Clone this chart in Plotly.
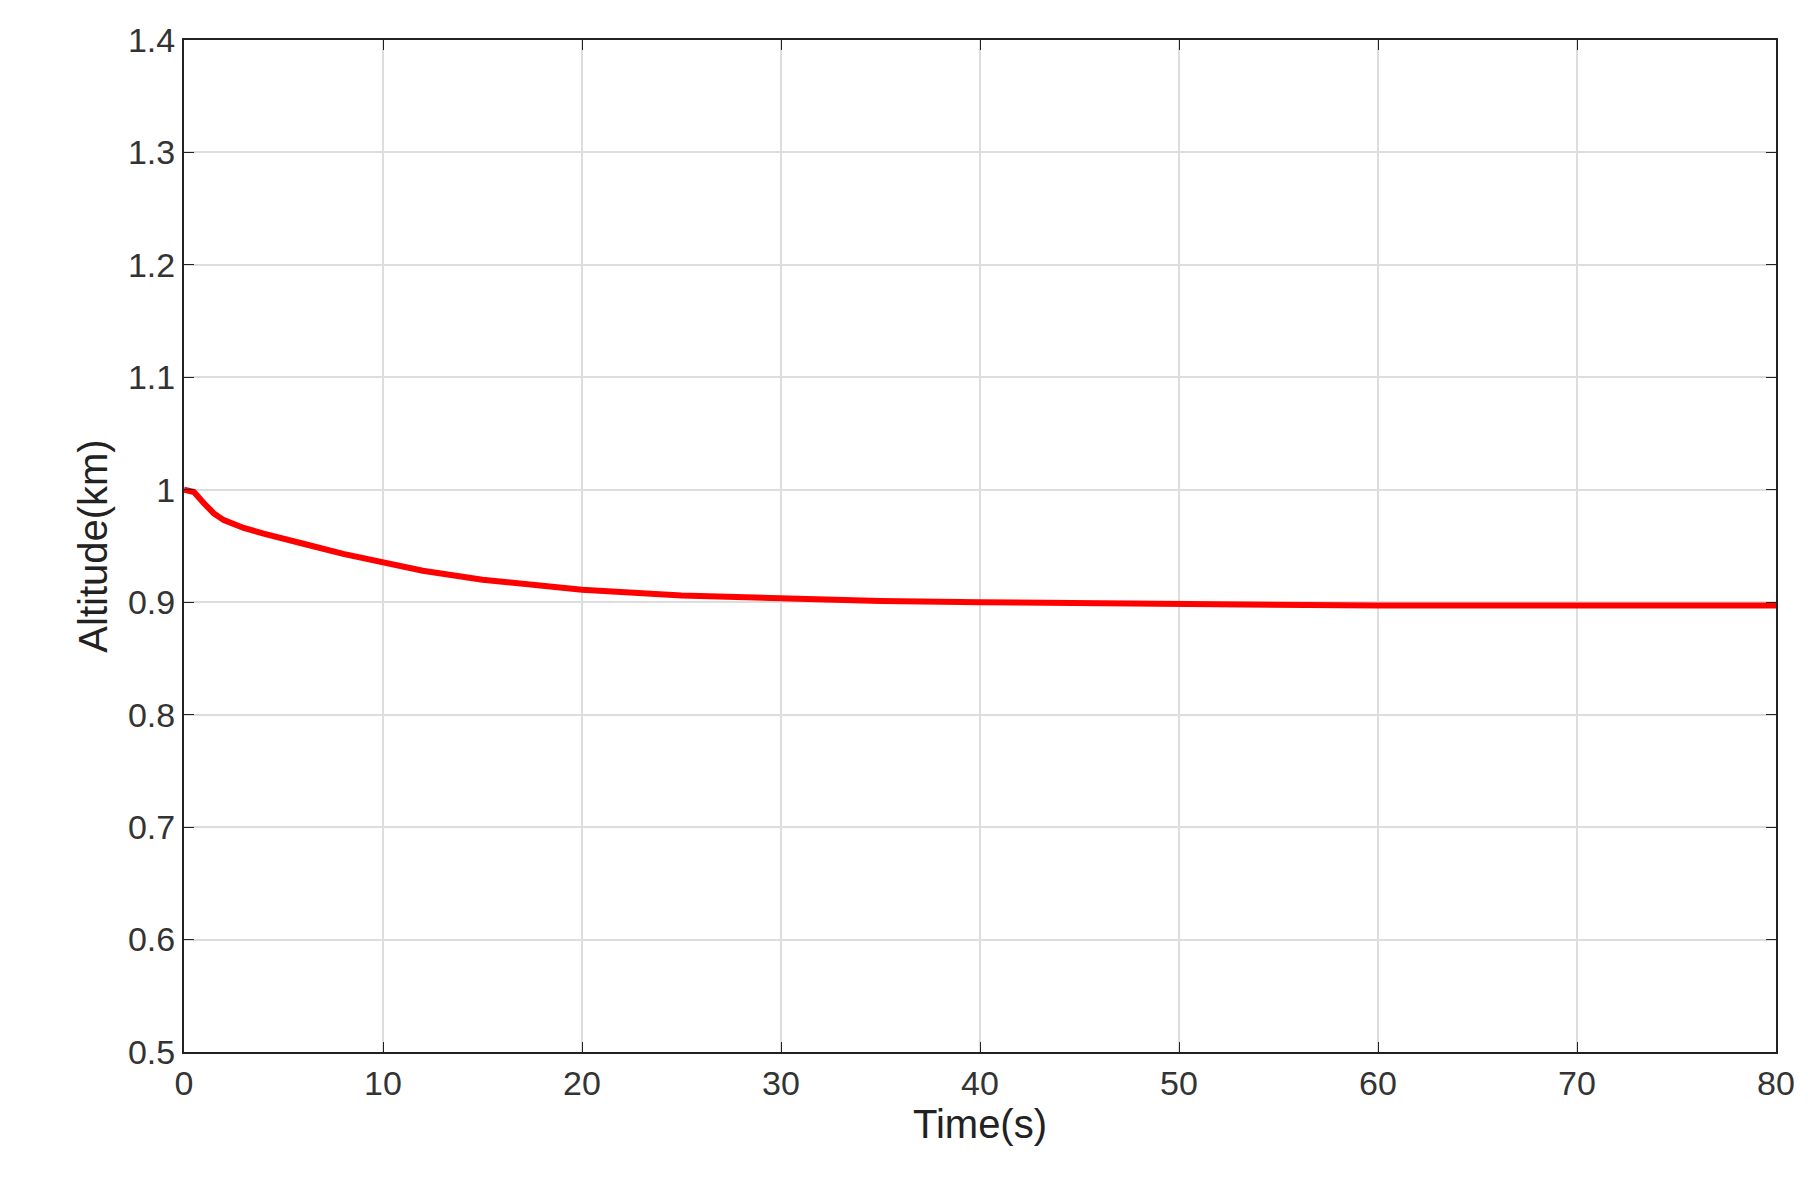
import plotly.graph_objects as go

# 読み取った値
time_s = [0, 0.5, 1, 1.5, 2, 3, 4, 5, 6, 8, 10, 12, 15, 18, 20, 25, 30, 35, 40, 45, 50, 55, 60, 70, 80]
altitude_km = [1.0, 0.998, 0.988, 0.979, 0.973, 0.966, 0.961, 0.957, 0.952, 0.943, 0.935, 0.928, 0.920, 0.914, 0.911, 0.906, 0.903, 0.901, 0.900, 0.899, 0.898, 0.898, 0.897, 0.897, 0.897]

x_ticks = list(range(0, 81, 10))
y_ticks = [0.5, 0.6, 0.7, 0.8, 0.9, 1.0, 1.1, 1.2, 1.3, 1.4]
y_labels = ['0.5', '0.6', '0.7', '0.8', '0.9', '1', '1.1', '1.2', '1.3', '1.4']

fig = go.Figure()
fig.add_trace(go.Scatter(x=time_s, y=altitude_km, mode='lines',
                         line=dict(color='#ff0000', width=6),
                         showlegend=False))

axis_style = dict(showline=True, linecolor='#222222', linewidth=2, mirror='ticks',
                  ticks='inside', ticklen=10, tickcolor='#222222',
                  showgrid=True, gridcolor='#dddddd', gridwidth=1.5,
                  zeroline=False, tickfont=dict(size=34, color='#333333'))

fig.update_xaxes(range=[0, 80], tickvals=x_ticks,
                 title=dict(text='Time(s)', font=dict(size=40, color='#222222'), standoff=8),
                 **axis_style)
fig.update_yaxes(range=[0.5, 1.4], tickvals=y_ticks, ticktext=y_labels,
                 title=dict(text='Altitude(km)', font=dict(size=40, color='#222222'), standoff=8),
                 **axis_style)

fig.update_layout(width=1808, height=1184, plot_bgcolor='white', paper_bgcolor='white',
                  font=dict(family='Liberation Sans, Arial'),
                  margin=dict(l=176, r=40, t=32, b=140))

fig.write_html("out.html")
